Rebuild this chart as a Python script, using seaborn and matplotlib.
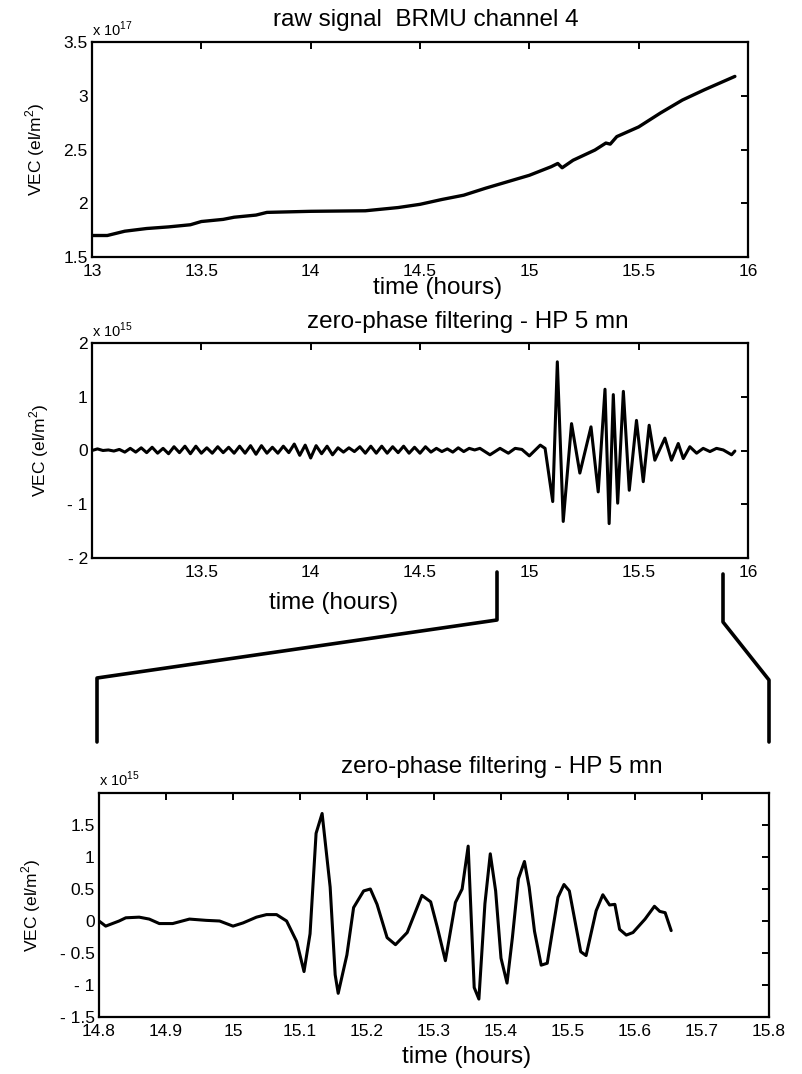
import numpy as np
import pandas as pd
import matplotlib
matplotlib.use("Agg")
import matplotlib.pyplot as plt
from matplotlib.lines import Line2D
from matplotlib.ticker import FuncFormatter
import seaborn as sns

# raw VEC signal, units of 1e17 el/m2
raw_t = [13.0, 13.07, 13.15, 13.25, 13.35, 13.45, 13.5, 13.6, 13.65, 13.75, 13.8,
         14.0, 14.25, 14.4, 14.5, 14.6, 14.7, 14.8, 14.9, 15.0, 15.1, 15.13, 15.15,
         15.2, 15.3, 15.35, 15.37, 15.4, 15.5, 15.6, 15.7, 15.8, 15.94]
raw_v = [1.70, 1.70, 1.74, 1.765, 1.78, 1.80, 1.83, 1.85, 1.87, 1.89, 1.915,
         1.925, 1.93, 1.96, 1.99, 2.035, 2.075, 2.14, 2.20, 2.26, 2.34, 2.37, 2.33,
         2.40, 2.495, 2.56, 2.55, 2.62, 2.71, 2.84, 2.96, 3.055, 3.18]

# filtered signal, full span, units of 1e15 el/m2
quiet_v = [0.00, 0.03, 0.00, 0.01, -0.01, 0.02, -0.03, 0.04, -0.03, 0.05, -0.04,
           0.06, -0.05, 0.04, -0.06, 0.07, -0.04, 0.08, -0.06, 0.08, -0.05, 0.05,
           -0.05, 0.07, -0.04, 0.06, -0.05, 0.08, -0.05, 0.09, -0.07, 0.09, -0.05,
           0.06, -0.05, 0.08, -0.04, 0.12, -0.09, 0.10, -0.14, 0.09, -0.06, 0.08,
           -0.08, 0.05, -0.03, 0.05, -0.02, 0.07, -0.05, 0.08, -0.05, 0.08, -0.05,
           0.07, -0.04, 0.08, -0.05, 0.06, -0.05, 0.07, -0.03, 0.04, -0.02, 0.03,
           -0.03, 0.05, -0.02, 0.04, 0.01]
quiet_t = [13.0 + 0.025 * i for i in range(len(quiet_v))]
burst_t = [14.774, 14.82, 14.866, 14.904, 14.935, 14.966, 15.0, 15.05, 15.072,
           15.107, 15.128, 15.155, 15.193, 15.231, 15.282, 15.315, 15.346, 15.365,
           15.384, 15.404, 15.43, 15.457, 15.49, 15.521, 15.548, 15.574, 15.62,
           15.65, 15.681, 15.704, 15.734, 15.765, 15.795, 15.826, 15.856, 15.887,
           15.925, 15.94]
burst_v = [0.04, -0.08, 0.04, -0.05, 0.04, 0.02, -0.10, 0.10, 0.04,
           -0.95, 1.65, -1.32, 0.50, -0.42, 0.44, -0.77, 1.14, -1.36,
           1.04, -0.98, 1.10, -0.74, 0.56, -0.58, 0.47, -0.18, 0.23,
           -0.18, 0.13, -0.15, 0.07, -0.05, 0.04, -0.02, 0.04, 0.01,
           -0.08, -0.01]

# zoomed filtered signal 14.8 - 15.65
zoom_t = [14.8, 14.81, 14.82, 14.83, 14.84, 14.86, 14.875, 14.89, 14.91, 14.935,
          14.96, 14.98, 15.0, 15.015, 15.035, 15.05, 15.065, 15.08, 15.095, 15.106,
          15.115, 15.124, 15.133, 15.145, 15.1525, 15.157, 15.17, 15.18, 15.195,
          15.205, 15.215, 15.23, 15.2425, 15.26, 15.282, 15.295, 15.305, 15.317,
          15.332, 15.342, 15.351, 15.36, 15.367, 15.376, 15.384, 15.392, 15.4,
          15.409, 15.417, 15.426, 15.435, 15.442, 15.45, 15.46, 15.469, 15.485,
          15.494, 15.502, 15.519, 15.527, 15.542, 15.552, 15.562, 15.57, 15.577,
          15.587, 15.597, 15.615, 15.629, 15.637, 15.645, 15.654]
zoom_v = [0.0, -0.08, -0.04, 0.0, 0.05, 0.06, 0.03, -0.04, -0.04, 0.03,
          0.01, 0.0, -0.08, -0.03, 0.06, 0.10, 0.10, 0.0, -0.32, -0.79,
          -0.20, 1.37, 1.68, 0.53, -0.84, -1.13, -0.53, 0.21, 0.47,
          0.50, 0.26, -0.26, -0.37, -0.18, 0.40, 0.30, -0.10, -0.62,
          0.29, 0.50, 1.17, -1.04, -1.22, 0.27, 1.05, 0.47, -0.58,
          -0.97, -0.26, 0.66, 0.93, 0.53, -0.16, -0.69, -0.66, 0.37,
          0.57, 0.47, -0.48, -0.54, 0.16, 0.41, 0.25, 0.26, -0.13,
          -0.22, -0.18, 0.03, 0.23, 0.15, 0.13, -0.15]

W, H = 802, 1074


def box(l, t, r, b):
    return [l / W, 1 - b / H, (r - l) / W, (b - t) / H]


def fmt(v, pos):
    s = f"{abs(v):g}"
    return "- " + s if v < -1e-9 else s


sns.set_theme(style="white")
plt.rcParams['font.family'] = ['Liberation Sans', 'DejaVu Sans']
plt.rcParams['mathtext.fontset'] = 'custom'
plt.rcParams['mathtext.rm'] = 'Liberation Sans'
plt.rcParams['text.color'] = 'black'
plt.rcParams['axes.labelcolor'] = 'black'

fig = plt.figure(figsize=(W / 100, H / 100), dpi=100)
ax1 = fig.add_axes(box(92, 42, 748, 257))
ax2 = fig.add_axes(box(92, 343, 748, 558))
ax3 = fig.add_axes(box(99, 793, 769, 1017))

sns.lineplot(x=raw_t, y=raw_v, ax=ax1, color="black", linewidth=2.4)
mid = pd.DataFrame({"t": quiet_t + burst_t, "v": quiet_v + burst_v})
sns.lineplot(data=mid, x="t", y="v", ax=ax2, color="black", linewidth=2.2)
sns.lineplot(x=zoom_t, y=zoom_v, ax=ax3, color="black", linewidth=2.2)

ax1.set_xlim(13, 16)
ax1.set_ylim(1.5, 3.5)
ax1.set_xticks(np.arange(13, 16.01, 0.5))
ax1.set_yticks(np.arange(1.5, 3.51, 0.5))

ax2.set_xlim(13, 16)
ax2.set_ylim(-2, 2)
ax2.set_xticks(np.arange(13.5, 16.01, 0.5))
ax2.set_yticks(np.arange(-2, 2.01, 1))

ax3.set_xlim(14.8, 15.8)
ax3.set_ylim(-1.5, 2)
ax3.set_xticks(np.round(np.arange(14.8, 15.81, 0.1), 1))
ax3.set_yticks(np.arange(-1.5, 1.51, 0.5))

for ax in (ax1, ax2, ax3):
    for sp in ax.spines.values():
        sp.set_visible(True)
        sp.set_color("black")
        sp.set_linewidth(1.6)
    ax.tick_params(direction="in", top=True, right=True, length=5, width=1.4,
                   labelsize=12.5, colors="black", pad=3)
    ax.tick_params(axis="x", pad=5)
    ax.xaxis.set_major_formatter(FuncFormatter(fmt))
    ax.yaxis.set_major_formatter(FuncFormatter(fmt))
    ax.set_xlabel("")
    ax.set_ylabel("VEC (el/m$^2$)", fontsize=12.5, labelpad=12)

ax1.text(0.0, 1.03, "x 10$^{17}$", transform=ax1.transAxes, fontsize=10.5, ha="left")
ax2.text(0.0, 1.03, "x 10$^{15}$", transform=ax2.transAxes, fontsize=10.5, ha="left")
ax3.text(0.0, 1.03, "x 10$^{15}$", transform=ax3.transAxes, fontsize=10.5, ha="left")

fig.text(426 / W, 1 - 20 / H, "raw signal  BRMU channel 4", fontsize=17.5,
         ha="center", va="center")
fig.text(438 / W, 1 - 288 / H, "time (hours)", fontsize=17.5, ha="center", va="center")
fig.text(468 / W, 1 - 322 / H, "zero-phase filtering - HP 5 mn", fontsize=17.5,
         ha="center", va="center")
fig.text(334 / W, 1 - 603 / H, "time (hours)", fontsize=17.5, ha="center", va="center")
fig.text(502 / W, 1 - 767 / H, "zero-phase filtering - HP 5 mn", fontsize=17.5,
         ha="center", va="center")
fig.text(467 / W, 1 - 1057 / H, "time (hours)", fontsize=17.5, ha="center", va="center")

# zoom connectors
left_x = [497, 497, 97, 97]
left_y = [572, 620, 678, 742]
right_x = [723, 723, 769, 769]
right_y = [574, 622, 680, 742]
for xs, ys in ((left_x, left_y), (right_x, right_y)):
    fig.add_artist(Line2D([x / W for x in xs], [1 - y / H for y in ys],
                          transform=fig.transFigure, color="black", linewidth=2.6))

fig.savefig("out.png", dpi=100)
